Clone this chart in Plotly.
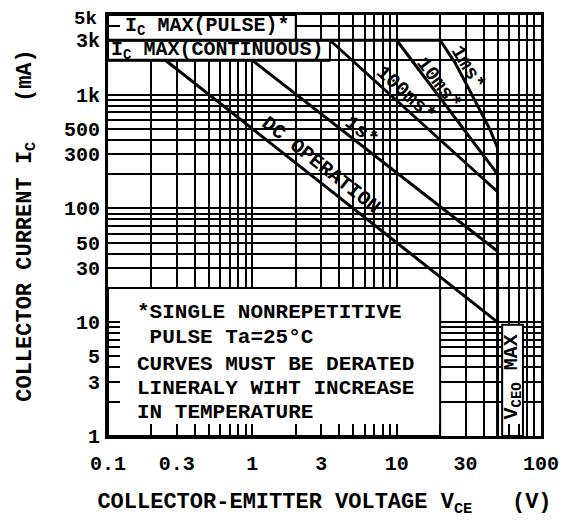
import numpy as np
import plotly.graph_objects as go

# ---------------- data (V in volts, I in mA) ----------------
dc_v = [0.25, 50]
dc_i = [2000, 10]
s1_v = [1.0, 50]
s1_i = [2000, 42]
ms100_v = [3.45, 50]
ms100_i = [3000, 140]
ms10_v = [10, 50]
ms10_i = [3000, 200]
ms1_v = [20, 25.4, 31.3, 37.9, 44.4, 50]
ms1_i = [3000, 1900, 1150, 730, 490, 340]
pulse_max_v = [0.1, 20]
pulse_max_i = [3000, 3000]
cont_max_v = [0.1, 3.45]
cont_max_i = [2000, 2000]
vceo_v = [50, 50]
vceo_i = [340, 1]

x_labels = {0.1: "0.1", 0.3: "0.3", 1: "1", 3: "3", 10: "10", 30: "30", 100: "100"}
y_labels = {1: "1", 3: "3", 5: "5", 10: "10", 30: "30", 50: "50", 100: "100",
            300: "300", 500: "500", 1000: "1k", 3000: "3k"}
y_top_label = (5000, "5k")   # drawn as an annotation so it is not clipped at the top

x_grid = [round(d * k, 4) for d in (0.1, 1, 10) for k in range(1, 10)] + [100]
y_grid = [round(d * k, 4) for d in (1, 10, 100, 1000) for k in range(1, 10) if d * k <= 5000]

FONT = "Liberation Mono"
fbold = lambda s: dict(family=FONT, size=s, color="black", weight="bold")
L = np.log10

fig = go.Figure()
for vx, iy in [(dc_v, dc_i), (s1_v, s1_i), (ms100_v, ms100_i), (ms10_v, ms10_i),
               (ms1_v, ms1_i), (pulse_max_v, pulse_max_i), (cont_max_v, cont_max_i),
               (vceo_v, vceo_i)]:
    fig.add_trace(go.Scatter(x=vx, y=iy, mode="lines",
                             line=dict(color="black", width=3), showlegend=False,
                             hoverinfo="skip"))

# white boxes covering the grid
boxes = [
    (0.1, 20, 1, 20),        # notes box
    (0.1, 3.45, 2000, 3000),  # Ic max continuous label box
    (0.1, 2.0, 3000, 5000),   # Ic max pulse label box
    (53.8, 75, 1, 9.5),       # VCEO label box
]
for x0, x1, y0, y1 in boxes:
    fig.add_shape(type="rect", xref="x", yref="y", x0=x0, x1=x1, y0=y0, y1=y1,
                  fillcolor="white", line=dict(color="black", width=2), layer="between")

ann = []
def txt(v, i, s, angle=0, size=20, xanchor="center"):
    ann.append(dict(x=L(v), y=L(i), xref="x", yref="y", text=s, showarrow=False,
                    textangle=angle, font=fbold(size), xanchor=xanchor, yanchor="middle"))

txt(3.0, 240, "DC OPERATION", 38)
txt(5.7, 470, "1s*", 38)
txt(11.6, 1020, "100ms*", 42)
txt(19.6, 1260, "10ms*", 53)
txt(31.0, 1720, "1ms*", 59)
txt(0.128, 3950, "I<sub>C</sub> MAX(PULSE)*", 0, 20, "left")
txt(0.1015, 2420, "I<sub>C</sub> MAX(CONTINUOUS)", 0, 20, "left")
txt(63.5, 3.3, "V<sub>CEO</sub> MAX", -90, 20)
notes = [(12.05, "*SINGLE NONREPETITIVE"), (7.41, "\u00a0PULSE Ta=25\u00b0C"),
         (4.29, "CURVES MUST BE DERATED"), (2.64, "LINERALY WIHT INCREASE"),
         (1.62, "IN TEMPERATURE")]
for yy, s in notes:
    txt(0.154, yy, s, 0, 21, "left")

# top y tick label (5k)
ann.append(dict(x=0, xref="paper", y=L(y_top_label[0]), yref="y", text=y_top_label[1],
                showarrow=False, xanchor="right", yanchor="middle", xshift=-9, yshift=-4,
                font=fbold(19)))

axis_common = dict(type="log", showgrid=True, gridcolor="black", gridwidth=1.5,
                   showline=True, linecolor="black", linewidth=3, mirror=True,
                   ticks="inside", ticklen=12, tickwidth=1.5, tickcolor="black",
                   tickfont=fbold(20), zeroline=False, automargin=False,
                   ticklabeloverflow="allow")

fig.update_xaxes(**axis_common, range=[-1, 2], tickmode="array", tickvals=x_grid,
                 ticktext=[x_labels.get(v, "") for v in x_grid], ticklabelstandoff=7,
                 title=dict(text="COLLECTOR-EMITTER VOLTAGE V<sub>CE</sub>\u00a0\u00a0\u00a0(V)",
                            font=fbold(22), standoff=18))
fig.update_yaxes(**axis_common, range=[0, L(5000)], tickmode="array", tickvals=y_grid,
                 ticktext=[y_labels.get(v, "") for v in y_grid], ticklabelstandoff=1,
                 title=dict(text="COLLECTOR CURRENT I<sub>C</sub>\u00a0\u00a0\u00a0(mA)",
                            font=fbold(22), standoff=27))

# the page adds an 8px body margin, so the figure is 8px smaller than the window
fig.update_layout(width=563, height=516, margin=dict(l=100, r=30, t=7, b=88),
                  paper_bgcolor="white", plot_bgcolor="white", annotations=ann,
                  showlegend=False)
fig.write_html("out.html")
